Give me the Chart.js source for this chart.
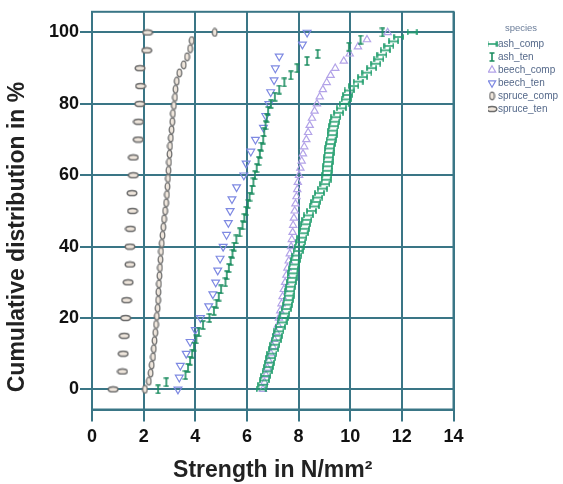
<!DOCTYPE html>
<html>
<head>
<meta charset="utf-8">
<script src="https://cdn.jsdelivr.net/npm/chart.js@4.4.0/dist/chart.umd.min.js"></script>
<style>
  html, body { margin: 0; padding: 0; background: #ffffff; }
  #wrap { width: 563px; height: 484px; position: relative; }
</style>
</head>
<body>
<div id="wrap"><canvas id="c"></canvas></div>
<script>
// ---------------- data ----------------
const seriesNames = ['ash_comp', 'ash_ten', 'beech_comp', 'beech_ten', 'spruce_comp', 'spruce_ten'];
const xTickValues = [0, 2, 4, 6, 8, 10, 12, 14];
const yTickValues = [0, 20, 40, 60, 80, 100];
const xTitleText = 'Strength in N/mm²';
const yTitleText = 'Cumulative distribution in %';
const legendTitleText = 'species';

const ashCompY = [0,1.25,2.5,3.75,5,6.25,7.5,8.75,10,11.25,12.5,13.75,15,16.25,17.5,18.75,20,21.25,22.5,23.75,25,26.25,27.5,28.75,30,31.25,32.5,33.75,35,36.25,37.5,38.75,40,41.25,42.5,43.75,45,46.25,47.5,48.75,50,51.25,52.5,53.75,55,56.25,57.5,58.75,60,61.25,62.5,63.75,65,66.25,67.5,68.75,70,71.25,72.5,73.75,75,76.25,77.5,78.75,80,81.25,82.5,83.75,85,86.25,87.5,88.75,90,91.25,92.5,93.75,95,96.25,97.5,98.75,100];
const ashCompX = [6.55,6.62,6.68,6.73,6.78,6.83,6.87,6.92,6.97,7.03,
  7.08,7.13,7.18,7.24,7.30,7.36,7.41,7.46,7.52,7.57,
  7.60,7.63,7.66,7.69,7.72,7.75,7.78,7.80,7.83,7.88,
  7.93,7.98,8.03,8.08,8.13,8.18,8.23,8.27,8.32,8.38,
  8.50,8.61,8.67,8.74,8.81,8.92,9.02,9.07,9.09,9.11,
  9.12,9.14,9.16,9.18,9.20,9.23,9.26,9.30,9.33,9.36,
  9.40,9.44,9.55,9.66,9.77,9.84,9.90,9.96,10.14,10.31,
  10.48,10.65,10.83,10.99,11.11,11.23,11.36,11.50,11.68,11.88,
  12.40];

const ashTenY = [0,2,4,6,8,10,12,14,16,18,20,22,24,26,28,30,32,34,36,38,40,42,44,46,48,50,52,54,56,58,60,62,64,66,68,70,72,74,76,78,80,82,84,86,88,90,92,94,96,98,100];
const ashTenX = [2.56,2.88,3.62,3.72,3.80,3.88,3.95,4.04,4.14,4.30,
  4.55,4.72,4.82,4.91,5.00,5.17,5.22,5.30,5.37,5.44,
  5.50,5.59,5.72,5.83,5.90,5.97,6.04,6.10,6.19,6.25,
  6.31,6.38,6.45,6.50,6.56,6.63,6.67,6.72,6.77,6.82,
  6.93,7.08,7.25,7.45,7.70,7.95,8.33,8.74,9.95,10.40,
  11.25];

const beechCompY = [0,2,4,6,8,10,12,14,16,18,20,22,24,26,28,30,32,34,36,38,40,42,44,46,48,50,52,54,56,58,60,62,64,66,68,70,72,74,76,78,80,82,84,86,88,90,92,94,96,98,100];
const beechCompX = [6.62,6.68,6.74,6.80,6.85,6.93,7.00,7.06,7.14,7.20,
  7.24,7.29,7.34,7.38,7.43,7.48,7.53,7.57,7.62,7.66,
  7.71,7.74,7.77,7.79,7.82,7.85,7.88,7.92,7.95,7.97,
  8.02,8.07,8.12,8.17,8.22,8.30,8.37,8.43,8.52,8.62,
  8.71,8.82,8.94,9.09,9.24,9.42,9.75,9.98,10.30,10.65,
  11.45];

const beechTenY = [0,3.33,6.67,10,13.33,16.67,20,23.33,26.67,30,33.33,36.67,40,43.33,46.67,50,53.33,56.67,60,63.33,66.67,70,73.33,76.67,80,83.33,86.67,90,93.33,96.67,100];
const beechTenX = [3.33,3.38,3.42,3.65,3.80,4.00,4.20,4.52,4.68,4.79,4.87,4.96,5.08,5.21,5.28,5.35,5.42,5.60,5.88,5.97,6.15,6.33,6.64,6.73,6.85,6.92,7.05,7.10,7.25,8.15,8.33];

const spruceCompY = [0,2.27,4.55,6.82,9.09,11.36,13.64,15.91,18.18,20.45,22.73,25,27.27,29.55,31.82,34.09,36.36,38.64,40.91,43.18,45.45,47.73,50,52.27,54.55,56.82,59.09,61.36,63.64,65.91,68.18,70.45,72.73,75,77.27,79.55,81.82,84.09,86.36,88.64,90.91,93.18,95.45,97.73,100];
const spruceCompX = [2.05,2.20,2.27,2.31,2.36,2.39,2.42,2.45,2.48,2.51,
  2.54,2.56,2.57,2.59,2.61,2.63,2.65,2.67,2.70,2.73,
  2.76,2.79,2.83,2.87,2.90,2.92,2.94,2.96,2.98,3.00,
  3.02,3.05,3.08,3.11,3.13,3.17,3.21,3.23,3.28,3.38,
  3.55,3.68,3.80,3.86,4.75];

const spruceTenY = [0,5,10,15,20,25,30,35,40,45,50,55,60,65,70,75,80,85,90,95,100];
const spruceTenX = [0.82,1.18,1.21,1.25,1.30,1.34,1.40,1.47,1.47,1.49,1.57,1.55,1.60,1.60,1.79,1.80,1.85,1.88,1.86,2.12,2.15];

// ---------------- styles / layout ----------------
const GRID = '#3a7686';
const COL = {
  ashComp: '#1f9d6c', ashTen: '#1a8c5f',
  beechComp: '#b3a3e8', beechTen: '#7e89e2',
  spruceComp: '#707070', spruceTen: '#6c6c6c'
};
const FONT = 'Liberation Sans';
const Y_AXIS_WIDTH = 92;
const X_AXIS_HEIGHT = 74.5;
const LEGEND_SPACE = 109.5;
const LEGEND_LEFT = 488;
const LEGEND_TITLE_WIDTH = 66;
const Y_TITLE_X = 18;
const Y_TITLE_Y = 237;

function makeMarker(w, h, draw) {
  const c = document.createElement('canvas');
  c.width = w; c.height = h;
  draw(c.getContext('2d'), w, h);
  return c;
}
const markerIbeamH = makeMarker(11, 6, (g) => {
  g.strokeStyle = COL.ashComp; g.lineWidth = 1.7; g.beginPath();
  g.moveTo(1, 3); g.lineTo(10, 3);
  g.moveTo(1, 0.3); g.lineTo(1, 5.7);
  g.moveTo(10, 0.3); g.lineTo(10, 5.7);
  g.stroke();
});
const markerIbeamV = makeMarker(6, 10, (g) => {
  g.strokeStyle = COL.ashTen; g.lineWidth = 1.6; g.beginPath();
  g.moveTo(3, 1); g.lineTo(3, 9);
  g.moveTo(0.5, 1); g.lineTo(5.5, 1);
  g.moveTo(0.5, 9); g.lineTo(5.5, 9);
  g.stroke();
});
const markerEllipseV = makeMarker(7, 10, (g) => {
  g.strokeStyle = COL.spruceComp; g.lineWidth = 1.3; g.fillStyle = '#efe6dc';
  g.beginPath(); g.ellipse(3.5, 5, 2.3, 3.8, 0, 0, Math.PI * 2); g.fill(); g.stroke();
});
const markerEllipseH = makeMarker(12, 8, (g) => {
  g.strokeStyle = COL.spruceTen; g.lineWidth = 1.5; g.fillStyle = '#efe6dc';
  g.beginPath(); g.ellipse(6, 4, 4.8, 2.6, 0, 0, Math.PI * 2); g.fill(); g.stroke();
});

function pts(xs, ys) { return xs.map((x, i) => ({ x: x, y: ys[i] })); }

const datasets = [
  { label: seriesNames[0], data: pts(ashCompX, ashCompY), pointStyle: markerIbeamH, pointRadius: 4, borderColor: COL.ashComp, backgroundColor: COL.ashComp },
  { label: seriesNames[1], data: pts(ashTenX, ashTenY), pointStyle: markerIbeamV, pointRadius: 4, borderColor: COL.ashTen, backgroundColor: COL.ashTen },
  { label: seriesNames[2], data: pts(beechCompX, beechCompY), pointStyle: 'triangle', pointRotation: 0, pointRadius: 4.2, borderWidth: 1.2, borderColor: COL.beechComp, backgroundColor: 'rgba(255,255,255,0)' },
  { label: seriesNames[3], data: pts(beechTenX, beechTenY), pointStyle: 'triangle', pointRotation: 180, pointRadius: 4.5, borderWidth: 1.2, borderColor: COL.beechTen, backgroundColor: 'rgba(255,255,255,0)' },
  { label: seriesNames[4], data: pts(spruceCompX, spruceCompY), pointStyle: markerEllipseV, pointRadius: 4, borderColor: COL.spruceComp, backgroundColor: COL.spruceComp },
  { label: seriesNames[5], data: pts(spruceTenX, spruceTenY), pointStyle: markerEllipseH, pointRadius: 4, borderColor: COL.spruceTen, backgroundColor: COL.spruceTen }
];

const framePlugin = {
  id: 'frame',
  afterInit(chart) {
    const lg = chart.legend;
    if (lg) {
      const fit0 = lg.fit.bind(lg);
      lg.fit = function () { fit0(); this.width = LEGEND_SPACE; };
    }
  },
  beforeDraw(chart) {
    const lg = chart.legend;
    if (lg) {
      lg.left = LEGEND_LEFT; lg.width = LEGEND_TITLE_WIDTH; lg.right = chart.width;
    }
  },
  beforeDatasetsDraw(chart) {
    const a = chart.chartArea, ctx = chart.ctx;
    ctx.save();
    ctx.strokeStyle = GRID; ctx.lineWidth = 2;
    ctx.strokeRect(a.left, a.top, a.right - a.left, a.bottom - a.top);
    ctx.restore();
  },
  afterDraw(chart) {
    const ctx = chart.ctx;
    ctx.save();
    ctx.translate(Y_TITLE_X, Y_TITLE_Y);
    ctx.rotate(-Math.PI / 2);
    ctx.font = 'bold 23px "' + FONT + '"';
    ctx.fillStyle = '#222222';
    ctx.textAlign = 'center';
    ctx.textBaseline = 'middle';
    ctx.fillText(yTitleText, 0, 0);
    ctx.restore();
  }
};

new Chart(document.getElementById('c'), {
  type: 'scatter',
  data: { datasets: datasets },
  options: {
    responsive: true,
    maintainAspectRatio: false,
    animation: false,
    layout: { padding: { top: 11, left: 0, right: 0, bottom: 0 } },
    plugins: {
      legend: {
        position: 'right',
        align: 'start',
        title: { display: true, text: legendTitleText, color: '#6b7d99', font: { family: FONT, size: 9.5 }, padding: { top: 12.25, bottom: 1.35 } },
        labels: { usePointStyle: true, boxWidth: 2, boxHeight: 6, padding: 3, color: '#55698a', font: { family: FONT, size: 10 } }
      },
      tooltip: { enabled: false }
    },
    scales: {
      x: {
        type: 'linear', min: 0, max: 14,
        afterBuildTicks: (s) => { s.ticks = xTickValues.map(v => ({ value: v })); },
        afterFit: (s) => { s.height = X_AXIS_HEIGHT; },
        grid: { color: GRID, lineWidth: 2, tickLength: 12, drawTicks: true },
        border: { display: true, color: GRID, width: 2 },
        ticks: { color: '#111111', font: { family: FONT, size: 18, weight: 'bold' }, padding: 5, maxRotation: 0 },
        title: { display: true, text: xTitleText, color: '#222222', font: { family: FONT, size: 23, weight: 'bold' }, padding: { top: 0, bottom: 0 } }
      },
      y: {
        type: 'linear', min: -5.65, max: 105.8,
        afterBuildTicks: (s) => { s.ticks = yTickValues.map(v => ({ value: v })); },
        afterFit: (s) => { s.width = Y_AXIS_WIDTH; },
        grid: { color: GRID, lineWidth: 2, tickLength: 12, drawTicks: true },
        border: { display: true, color: GRID, width: 2 },
        ticks: { color: '#111111', font: { family: FONT, size: 18, weight: 'bold' }, padding: 1 }
      }
    }
  },
  plugins: [framePlugin]
});
</script>
</body>
</html>
